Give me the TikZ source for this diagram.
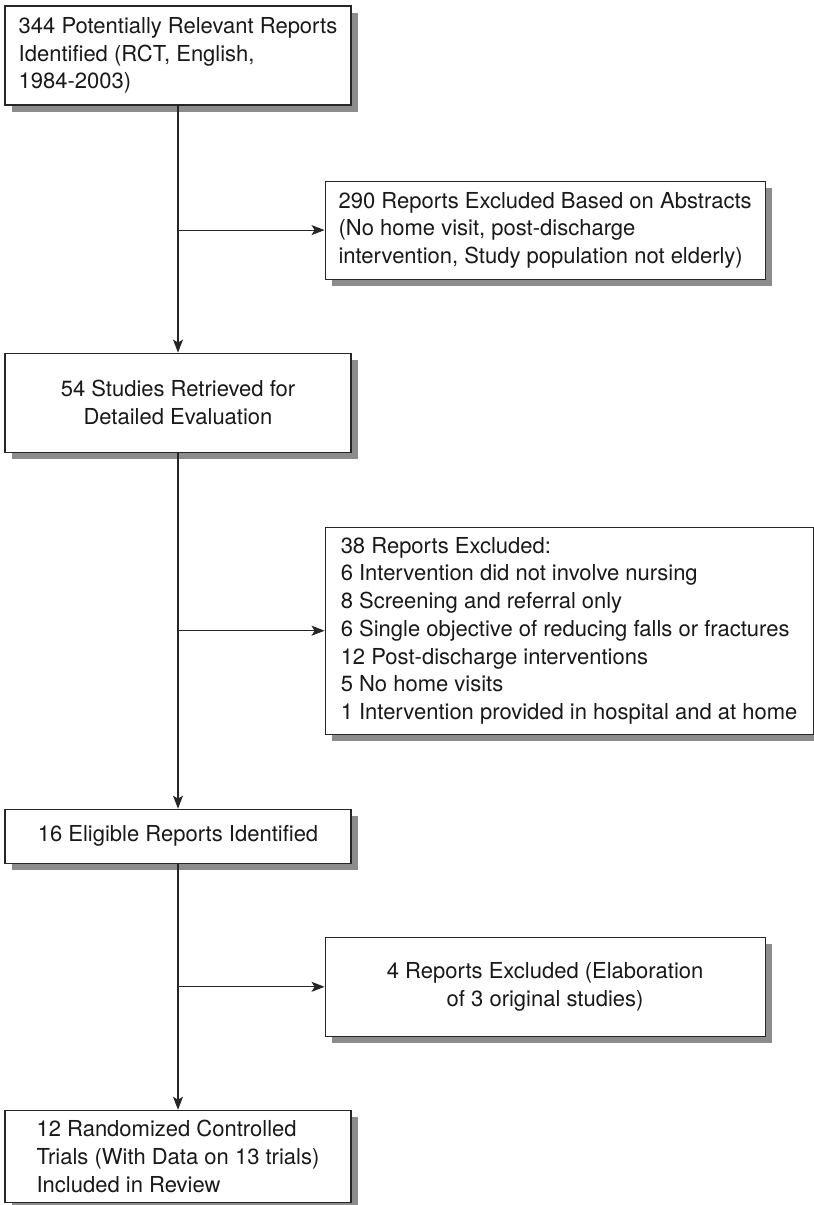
\documentclass[tikz,border=0pt]{standalone}
\usepackage{fontspec}
\setmainfont{TeX Gyre Heros}
\usepackage{tikz}
\usetikzlibrary{arrows.meta,positioning,shadows}

\begin{document}
\begin{tikzpicture}[
    >={Stealth[length=13pt,width=10pt,inset=3pt]},
    flow/.style={->,draw=black!85,line width=1.1pt},
    stagebox/.style={draw=black!85,line width=1.1pt,fill=white,
      align=left,inner sep=0pt,
      font=\fontsize{22}{27.7}\selectfont,text=black!90,
      drop shadow={shadow xshift=7pt,shadow yshift=-7pt,
        fill=black!45,opacity=1}},
    mainbox/.style={stagebox,minimum width=346pt},
    sidebox/.style={stagebox,minimum width=440pt}
  ]
    \useasboundingbox (0pt,0pt) rectangle (814pt,-1205pt);

    \node[mainbox,minimum height=99pt] (found) at (178pt,-55.5pt)
      {344 Potentially Relevant Reports\\
       Identified (RCT, English,\\
       1984-2003)};
    \node[sidebox,minimum height=98pt,
      below right=75pt and -27pt of found.south east] (absx)
      {290 Reports Excluded Based on Abstracts\\
       (No home visit, post-discharge\\
       intervention, Study population not elderly)};

    \node[mainbox,minimum height=99pt,align=center,
      below=247pt of found] (retr)
      {54 Studies Retrieved for\\
       Detailed Evaluation};
    \node[sidebox,minimum width=488pt,minimum height=207pt,
      below right=74pt and -27pt of retr.south east] (fullx)
      {38 Reports Excluded:\\
       6 Intervention did not involve nursing\\
       8 Screening and referral only\\
       6 Single objective of reducing falls or fractures\\
       12 Post-discharge interventions\\
       5 No home visits\\
       1 Intervention provided in hospital and at home};

    \node[mainbox,minimum height=54pt,below=356pt of retr] (elig)
      {16 Eligible Reports Identified};
    \node[sidebox,minimum height=99pt,align=center,
      below right=73pt and -27pt of elig.south east] (dupx)
      {4 Reports Excluded (Elaboration\\
       of 3 original studies)};

    \node[mainbox,minimum height=92pt,below=246pt of elig] (incl)
      {12 Randomized Controlled\\
       Trials (With Data on 13 trials)\\
       Included in Review};

    \draw[flow] (found) -- (retr);
    \draw[flow] (retr) -- (elig);
    \draw[flow] (elig) -- (incl);

    \draw[flow] (found.south |- absx.west) -- (absx.west);
    \draw[flow] (retr.south |- fullx.west) -- (fullx.west);
    \draw[flow] (elig.south |- dupx.west) -- (dupx.west);
  \end{tikzpicture}
\end{document}
